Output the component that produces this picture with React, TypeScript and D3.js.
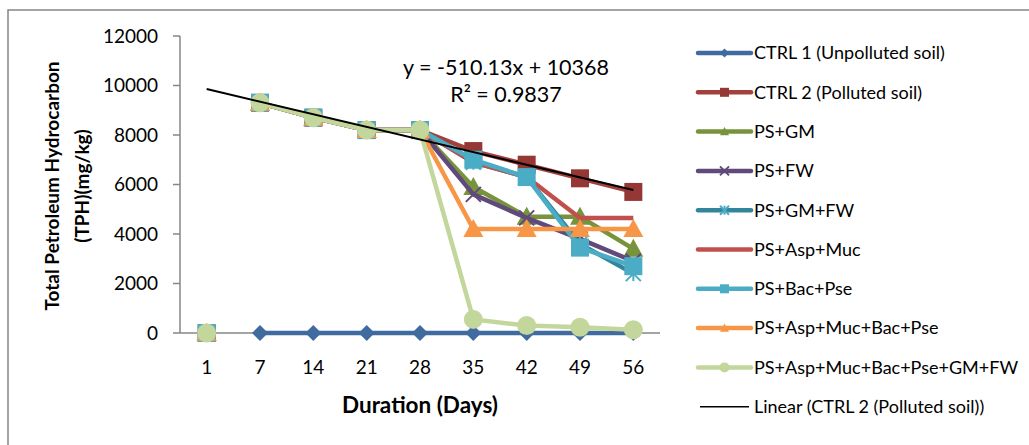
import React from "react";
import * as d3 from "d3";

const days = ["1", "7", "14", "21", "28", "35", "42", "49", "56"];
const yTicks = [0, 2000, 4000, 6000, 8000, 10000, 12000];

const ctrl1 = [0, 0, 0, 0, 0, 0, 0, 0, 0];
const ctrl2 = [0, 9300, 8700, 8200, 8200, 7350, 6800, 6250, 5700];
const psGM = [0, 9300, 8700, 8200, 8200, 5900, 4700, 4700, 3400];
const psFW = [0, 9300, 8700, 8200, 8200, 5600, 4650, 3800, 2900];
const psGMFW = [0, 9300, 8700, 8200, 8200, 6900, 6300, 3600, 2400];
const psAspMuc = [0, 9300, 8700, 8200, 8200, 6900, 6300, 4650, 4650];
const psBacPse = [0, 9300, 8700, 8200, 8200, 7000, 6300, 3450, 2700];
const psAll4 = [0, 9300, 8700, 8200, 8200, 4200, 4200, 4200, 4200];
const psAll = [0, 9300, 8700, 8200, 8200, 550, 300, 230, 130];

const trendSlope = -510.13;
const trendIntercept = 10368;

type Marker = "diamond" | "square" | "triangle" | "x" | "star" | "none" | "circle";
const series: { name: string; values: number[]; line: string; fill: string; marker: Marker }[] = [
  { name: "CTRL 1 (Unpolluted soil)", values: ctrl1, line: "#3F6B9F", fill: "#3F6B9F", marker: "diamond" },
  { name: "CTRL 2 (Polluted soil)", values: ctrl2, line: "#A2403D", fill: "#953735", marker: "square" },
  { name: "PS+GM", values: psGM, line: "#77933C", fill: "#77933C", marker: "triangle" },
  { name: "PS+FW", values: psFW, line: "#604A7B", fill: "#604A7B", marker: "x" },
  { name: "PS+GM+FW", values: psGMFW, line: "#31859C", fill: "#4BACC6", marker: "star" },
  { name: "PS+Asp+Muc", values: psAspMuc, line: "#C0504D", fill: "#C0504D", marker: "none" },
  { name: "PS+Bac+Pse", values: psBacPse, line: "#4BACC6", fill: "#4BACC6", marker: "square" },
  { name: "PS+Asp+Muc+Bac+Pse", values: psAll4, line: "#F79646", fill: "#F79646", marker: "triangle" },
  { name: "PS+Asp+Muc+Bac+Pse+GM+FW", values: psAll, line: "#C3D69B", fill: "#C3D69B", marker: "circle" },
];

const FONT = "Lato, 'Open Sans', sans-serif";

function MarkerShape({ type, x, y, s, color, stroke }: { type: Marker; x: number; y: number; s: number; color: string; stroke: string }) {
  const h = s / 2;
  switch (type) {
    case "diamond":
      return <path d={`M${x},${y - h}L${x + h},${y}L${x},${y + h}L${x - h},${y}Z`} fill={color} />;
    case "square":
      return <rect x={x - h} y={y - h} width={s} height={s} fill={color} />;
    case "triangle":
      return <path d={`M${x},${y - h}L${x + h},${y + h * 0.8}L${x - h},${y + h * 0.8}Z`} fill={color} />;
    case "circle":
      return <circle cx={x} cy={y} r={h} fill={color} />;
    case "x":
      return (
        <g stroke={stroke} strokeWidth={2}>
          <line x1={x - h} y1={y - h} x2={x + h} y2={y + h} />
          <line x1={x - h} y1={y + h} x2={x + h} y2={y - h} />
        </g>
      );
    case "star":
      return (
        <g stroke={stroke} strokeWidth={2}>
          <line x1={x - h} y1={y - h} x2={x + h} y2={y + h} />
          <line x1={x - h} y1={y + h} x2={x + h} y2={y - h} />
          <line x1={x} y1={y - h} x2={x} y2={y + h} />
        </g>
      );
    default:
      return null;
  }
}

export default function App() {
  const W = 1029, H = 445;
  const x = d3.scaleBand<string>().domain(days).range([180, 660]).paddingInner(0).paddingOuter(0);
  const cx = (d: string) => (x(d) as number) + x.bandwidth() / 2;
  const y = d3.scaleLinear().domain([0, 12000]).range([333, 36]);

  const lineGen = d3
    .line<number>()
    .defined((_, i) => i > 0)
    .x((_, i) => cx(days[i]))
    .y((v) => y(v));

  const markerSize = (m: Marker) =>
    m === "circle" ? 19 : m === "square" ? 18 : m === "triangle" ? 20 : m === "diamond" ? 16 : 15;

  const trendX1 = 1, trendX2 = days.length;
  const trendPts = [trendX1, trendX2].map((i) => [cx(days[i - 1]), y(trendSlope * i + trendIntercept)]);

  const legendX = 698;
  const legendY0 = 53;
  const legendStep = 39.3;

  return (
    <svg width={W} height={H} style={{ position: "absolute", left: 0, top: 0, background: "#fff" }} fontFamily={FONT}>
      <rect x={0} y={0} width={W} height={H} fill="#fff" />
      <rect x={8} y={10} width={W + 20} height={H + 20} fill="none" stroke="#868686" strokeWidth={1.5} />

      {/* y axis */}
      <line x1={180} y1={y(0)} x2={180} y2={y(12000)} stroke="#868686" strokeWidth={1.5} />
      {yTicks.map((t) => (
        <g key={t}>
          <line x1={173} x2={180} y1={y(t)} y2={y(t)} stroke="#868686" strokeWidth={1.5} />
          <text x={158} y={y(t)} dy="0.35em" textAnchor="end" fontSize={19} fill="#000">
            {t}
          </text>
        </g>
      ))}
      {/* x axis */}
      <line x1={180} y1={y(0)} x2={660} y2={y(0)} stroke="#868686" strokeWidth={1.5} />
      {days.map((d) => (
        <text key={d} x={cx(d)} y={367} dy="0.35em" textAnchor="middle" fontSize={19} fill="#000">
          {d}
        </text>
      ))}

      <text x={420} y={405} dy="0.35em" textAnchor="middle" fontSize={22.5} fontWeight="bold">
        Duration (Days)
      </text>
      <g transform="translate(52,186) rotate(-90)">
        <text x={0} y={0} dy="0.35em" textAnchor="middle" fontSize={19} fontWeight="bold">
          Total Petroleum Hydrocarbon
        </text>
      </g>
      <g transform="translate(82,186) rotate(-90)">
        <text x={0} y={0} dy="0.35em" textAnchor="middle" fontSize={19} fontWeight="bold">
          (TPH)(mg/kg)
        </text>
      </g>

      {/* series */}
      {series.map((s) => (
        <g key={s.name}>
          <path d={lineGen(s.values) || ""} fill="none" stroke={s.line} strokeWidth={4.5} strokeLinejoin="round" />
          {s.values.map((v, i) => (
            <MarkerShape key={i} type={s.marker} x={cx(days[i])} y={y(v)} s={markerSize(s.marker)} color={s.fill} stroke={s.fill} />
          ))}
        </g>
      ))}

      {/* trendline */}
      <line x1={trendPts[0][0]} y1={trendPts[0][1]} x2={trendPts[1][0]} y2={trendPts[1][1]} stroke="#000" strokeWidth={2} />
      <text x={506} y={67} dy="0.35em" textAnchor="middle" fontSize={21.5}>
        y = -510.13x + 10368
      </text>
      <text x={506} y={94} dy="0.35em" textAnchor="middle" fontSize={21.5}>
        R² = 0.9837
      </text>

      {/* legend */}
      {series.map((s, i) => {
        const ly = legendY0 + i * legendStep;
        return (
          <g key={s.name}>
            <line x1={legendX} x2={legendX + 53} y1={ly} y2={ly} stroke={s.line} strokeWidth={4.5} strokeLinecap="round" />
            <MarkerShape type={s.marker} x={legendX + 26.5} y={ly} s={s.marker === "circle" ? 10 : 9} color={s.fill} stroke={s.fill} />
            <text x={legendX + 56} y={ly} dy="0.35em" fontSize={18}>
              {s.name}
            </text>
          </g>
        );
      })}
      {(() => {
        const ly = legendY0 + series.length * legendStep;
        return (
          <g>
            <line x1={legendX + 2} x2={legendX + 51} y1={ly} y2={ly} stroke="#000" strokeWidth={1.5} />
            <text x={legendX + 56} y={ly} dy="0.35em" fontSize={18}>
              Linear (CTRL 2 (Polluted soil))
            </text>
          </g>
        );
      })()}
    </svg>
  );
}
